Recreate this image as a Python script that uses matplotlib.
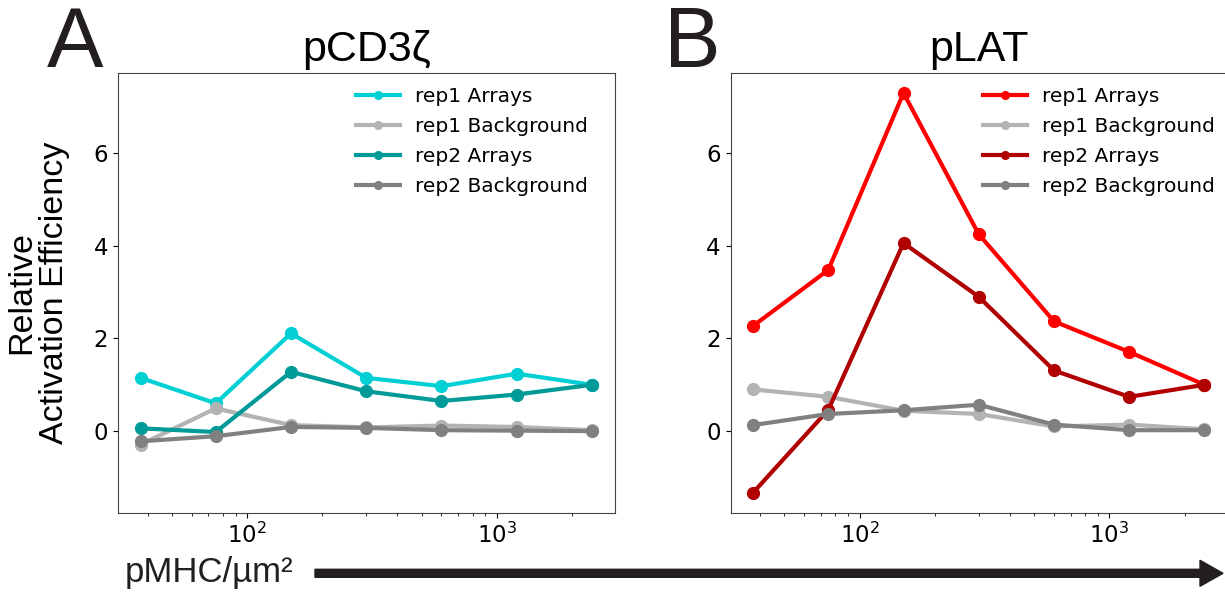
import matplotlib
matplotlib.use("Agg")
import matplotlib.pyplot as plt
from matplotlib.patches import FancyArrow

# ---- data ----
density = [37.5, 75, 150, 300, 600, 1200, 2400]

cd3_rep1_arrays = [1.15, 0.60, 2.11, 1.15, 0.97, 1.24, 1.00]
cd3_rep1_bg = [-0.29, 0.49, 0.13, 0.08, 0.12, 0.09, 0.02]
cd3_rep2_arrays = [0.06, -0.02, 1.28, 0.86, 0.65, 0.79, 1.00]
cd3_rep2_bg = [-0.22, -0.11, 0.09, 0.07, 0.02, 0.01, 0.00]

lat_rep1_arrays = [2.27, 3.48, 7.30, 4.25, 2.37, 1.71, 1.00]
lat_rep1_bg = [0.90, 0.74, 0.44, 0.37, 0.10, 0.14, 0.04]
lat_rep2_arrays = [-1.33, 0.46, 4.06, 2.90, 1.31, 0.74, 1.00]
lat_rep2_bg = [0.13, 0.37, 0.45, 0.57, 0.14, 0.02, 0.02]

labels = ["rep1 Arrays", "rep1 Background", "rep2 Arrays", "rep2 Background"]
titles = ["pCD3ζ", "pLAT"]
panel_letters = ["A", "B"]

cd3_colors = ["#00d0d4", "#b3b3b3", "#009b98", "#808080"]
lat_colors = ["#ff0000", "#b3b3b3", "#b00000", "#808080"]

W, H = 1225, 596
fig = plt.figure(figsize=(W / 100, H / 100), dpi=100)

axA = fig.add_axes([118 / W, 1 - 512.7 / H, 496.5 / W, 439.7 / H])
axB = fig.add_axes([730.5 / W, 1 - 512.7 / H, 496.5 / W, 439.7 / H], sharey=axA)

sans = ["Liberation Sans", "DejaVu Sans"]

panels = [
    (axA, [cd3_rep1_arrays, cd3_rep1_bg, cd3_rep2_arrays, cd3_rep2_bg], cd3_colors, 0.4794),
    (axB, [lat_rep1_arrays, lat_rep1_bg, lat_rep2_arrays, lat_rep2_bg], lat_colors, 0.5086),
]

for i, (ax, series, colors, lx) in enumerate(panels):
    for ys, c, lab in zip(series, colors, labels):
        ax.plot(density, ys, "-o", color=c, lw=3, ms=8.5, label=lab)
    ax.set_xscale("log")
    ax.set_yticks([0, 2, 4, 6])
    ax.tick_params(axis="both", which="major", labelsize=16.5)
    for s in ax.spines.values():
        s.set_edgecolor("#444444")
    ax.set_title(titles[i], fontsize=31, family=sans, pad=9)
    ax.legend(loc="upper left", bbox_to_anchor=(lx, 0.968), frameon=False,
              borderpad=0, borderaxespad=0, fontsize=14.5, markerscale=0.65,
              handlelength=2.2, handletextpad=0.75, labelspacing=0.55)

axB.tick_params(axis="y", labelleft=True)
axA.set_ylabel("Relative\nActivation Efficiency", fontsize=24.5, family=sans,
               linespacing=1.05)
axA.yaxis.set_label_coords(-0.097, 0.5)

fig.text(47 / W, 1 - 67 / H, panel_letters[0], fontsize=61, family=sans,
         ha="left", va="baseline", color="#231f20")
fig.text(664 / W, 1 - 67 / H, panel_letters[1], fontsize=61, family=sans,
         ha="left", va="baseline", color="#231f20")

fig.text(125 / W, 1 - 582 / H, "pMHC/µm²", fontsize=25, family=sans,
         ha="left", va="baseline", color="#231f20")

arrow = FancyArrow(3.15, 0.227, 12.23 - 3.15, 0, width=0.08, head_width=0.26,
                   head_length=0.23, length_includes_head=True,
                   color="#231f20", transform=fig.dpi_scale_trans)
fig.add_artist(arrow)

fig.savefig("out.png", dpi=100)
